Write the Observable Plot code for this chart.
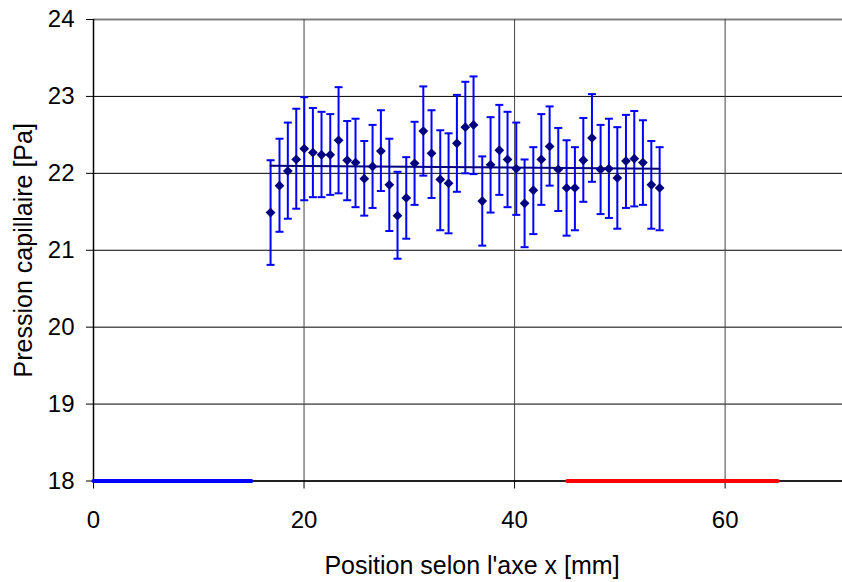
<!DOCTYPE html>
<html>
<head>
<meta charset="utf-8">
<script src="https://cdn.jsdelivr.net/npm/d3@7"></script>
<script src="https://cdn.jsdelivr.net/npm/@observablehq/plot@0.6"></script>
<style>
  html, body { margin: 0; padding: 0; background: #fff; }
</style>
</head>
<body>
<div id="chart"></div>
<script>
// Positions (mm)
const positions = [16.82, 17.67, 18.46, 19.26, 20.02, 20.84, 21.66, 22.49, 23.28, 24.10,
  24.89, 25.72, 26.51, 27.30, 28.10, 28.88, 29.71, 30.50, 31.33, 32.11,
  32.94, 33.73, 34.52, 35.32, 36.10, 36.93, 37.72, 38.55, 39.33, 40.16,
  40.95, 41.78, 42.54, 43.33, 44.15, 44.94, 45.73, 46.53, 47.35, 48.17,
  48.96, 49.76, 50.58, 51.37, 52.19, 52.99, 53.78];
// Capillary pressure (Pa)
const pressure = [21.49, 21.84, 22.03, 22.18, 22.32, 22.27, 22.24, 22.24, 22.43, 22.17,
  22.14, 21.93, 22.09, 22.29, 21.85, 21.45, 21.68, 22.13, 22.55, 22.26,
  21.92, 21.87, 22.39, 22.60, 22.63, 21.64, 22.11, 22.30, 22.18, 22.06,
  21.61, 21.78, 22.18, 22.35, 22.05, 21.81, 21.81, 22.17, 22.46, 22.05,
  22.06, 21.94, 22.16, 22.19, 22.14, 21.85, 21.81];
const errHigh = [22.17, 22.45, 22.66, 22.84, 22.99, 22.85, 22.80, 22.77, 23.12, 22.68,
  22.71, 22.42, 22.63, 22.82, 22.45, 22.02, 22.21, 22.67, 23.13, 22.82,
  22.56, 22.52, 23.02, 23.19, 23.26, 22.22, 22.73, 22.89, 22.80, 22.66,
  22.18, 22.34, 22.77, 22.87, 22.59, 22.43, 22.34, 22.72, 23.03, 22.63,
  22.71, 22.60, 22.76, 22.81, 22.69, 22.42, 22.34];
const errLow = [20.81, 21.24, 21.41, 21.54, 21.65, 21.69, 21.69, 21.72, 21.74, 21.65,
  21.56, 21.45, 21.55, 21.77, 21.25, 20.89, 21.15, 21.59, 21.97, 21.68,
  21.26, 21.22, 21.76, 22.00, 21.99, 21.06, 21.49, 21.72, 21.56, 21.46,
  21.04, 21.21, 21.59, 21.84, 21.51, 21.19, 21.26, 21.63, 21.89, 21.47,
  21.42, 21.28, 21.55, 21.57, 21.59, 21.28, 21.26];
// Mean / trend line
const trendX = [16.82, 53.78];
const trendY = [22.10, 22.06];
// Coloured segments on the x axis
const blueSegX = [0, 15];
const redSegX = [45, 65];
const segY = 18;
// Ticks
const xTicks = [0, 20, 40, 60];
const yTicks = [18, 19, 20, 21, 22, 23, 24];
const xTitle = "Position selon l'axe x [mm]";
const yTitle = "Pression capillaire [Pa]";

const data = positions.map((x, i) => ({x, y: pressure[i], lo: errLow[i], hi: errHigh[i]}));
const trend = trendX.map((x, i) => ({x, y: trendY[i]}));
const capHalf = 0.38;

const chart = Plot.plot({
  width: 842,
  height: 582,
  marginLeft: 93,
  marginRight: 0,
  marginTop: 19,
  marginBottom: 101.5,
  x: {domain: [0, 71.15]},
  y: {domain: [18, 24]},
  style: {fontFamily: "'Liberation Sans', Arial, sans-serif", fontSize: "24px", color: "#000", background: "#fff"},
  marks: [
    Plot.gridY(yTicks.filter(t => t < 24), {stroke: "#000", strokeOpacity: 1, strokeWidth: 1}),
    Plot.gridY([24], {stroke: "#808080", strokeOpacity: 1, strokeWidth: 2}),
    Plot.gridX(xTicks.filter(t => t > 0), {stroke: "#444", strokeOpacity: 1, strokeWidth: 1}),
    Plot.axisY({ticks: yTicks, tickFormat: "d", tickSize: 7, tickPadding: 12, label: null, stroke: "#000", fontSize: 24}),
    Plot.axisX({ticks: xTicks, tickFormat: "d", tickSize: 8, tickPadding: 22, label: null, stroke: "#000", fontSize: 24}),
    Plot.ruleX([0], {stroke: "#000", strokeWidth: 1.5}),
    Plot.ruleY([18], {stroke: "#000", strokeWidth: 1.5}),
    Plot.ruleX(data, {x: "x", y1: "lo", y2: "hi", stroke: "#0000ff", strokeWidth: 2}),
    Plot.link(data, {x1: d => d.x - capHalf, x2: d => d.x + capHalf, y1: "hi", y2: "hi", stroke: "#0000ff", strokeWidth: 2}),
    Plot.link(data, {x1: d => d.x - capHalf, x2: d => d.x + capHalf, y1: "lo", y2: "lo", stroke: "#0000ff", strokeWidth: 2}),
    Plot.line(trend, {x: "x", y: "y", stroke: "#000080", strokeWidth: 2}),
    Plot.dot(data, {x: "x", y: "y", symbol: "diamond2", r: 4.4, fill: "#000080", stroke: "none"}),
    Plot.line(blueSegX.map(x => ({x, y: segY})), {x: "x", y: "y", stroke: "#0000ff", strokeWidth: 4}),
    Plot.line(redSegX.map(x => ({x, y: segY})), {x: "x", y: "y", stroke: "#ff0000", strokeWidth: 4}),
    Plot.text([xTitle], {frameAnchor: "bottom", textAnchor: "middle", lineAnchor: "middle", dx: 4, dy: 85, fontSize: 25, fill: "#000"}),
    Plot.text([yTitle], {frameAnchor: "left", textAnchor: "middle", lineAnchor: "middle", rotate: -90, dx: -70, fontSize: 25, fill: "#000"})
  ]
});
document.getElementById("chart").appendChild(chart);
</script>
</body>
</html>
